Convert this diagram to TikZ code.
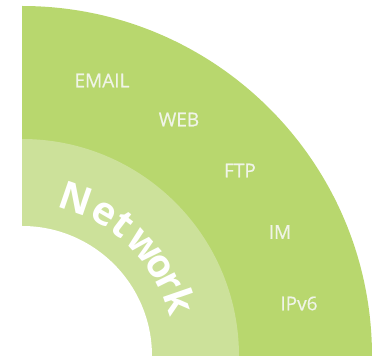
\documentclass[tikz,border=0pt]{standalone}
\usepackage{fontspec}
\setmainfont{Open Sans}
\newfontfamily\protofont[FakeBold=0.6]{Open Sans}
\usepackage{tikz}
\usetikzlibrary{calc}
\definecolor{nwgreen}{RGB}{184,215,110}
\definecolor{nwlightgreen}{RGB}{204,225,154}
\definecolor{nwtext}{RGB}{240,244,232}
\begin{document}
\begin{tikzpicture}[x=1pt, y=1pt,
    proto/.style={text=nwtext, inner sep=0pt, font=\protofont\fontsize{19}{22}\selectfont},
    letter/.style={text=white, anchor=base, inner sep=0pt, font=\fontsize{39}{42}\selectfont\bfseries}]
\useasboundingbox (0,0) rectangle (373,356);

% Rings
\fill[nwgreen] (22,0) -- (372,0) arc (0:90:350) -- cycle;
\fill[nwlightgreen] (22,0) -- (239,0) arc (0:90:217) -- cycle;
\fill[white] (22,0) -- (152,0) arc (0:90:130) -- cycle;

% Protocols
\node[proto] (email) at (102,275.5) {EMAIL};
\node[proto] (web) at (179,236.5) {WEB};
\node[proto] (ftp) at (240,185.5) {FTP};
\node[proto] (im) at (280,124) {IM};
\node[proto] (ipv6) at (299,52.5) {IPv6};

% Curved title
\foreach \ch/\ang [count=\i] in {N/71,e/60,t/52.5,w/42,o/33,r/26.5,k/19}
  \node[letter, rotate=\ang-90] (net\i) at ($(22,0)+(\ang:153)$) {\ch};
\end{tikzpicture}
\end{document}
